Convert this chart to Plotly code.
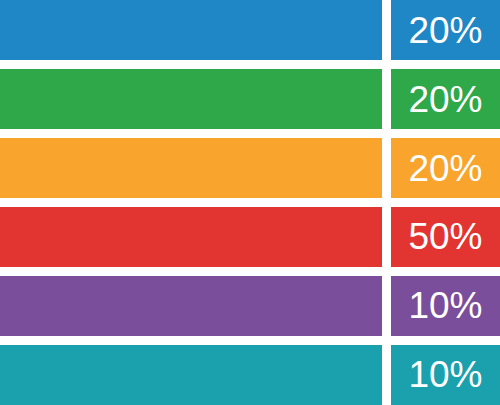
import plotly.graph_objects as go

rows = [0, 1, 2, 3, 4, 5]
labels = ["20%", "20%", "20%", "50%", "10%", "10%"]
colors = ["#1f87c6", "#2fa84a", "#f9a42c", "#e23431", "#7a4e9a", "#1ba1ad"]
bar_len = [382] * 6
gap_len = [9] * 6
box_len = [109] * 6

fig = go.Figure()
fig.add_bar(y=rows, x=bar_len, orientation="h", marker=dict(color=colors, line_width=0),
            hoverinfo="skip")
fig.add_bar(y=rows, x=gap_len, orientation="h", marker=dict(color="rgba(0,0,0,0)", line_width=0),
            hoverinfo="skip")
fig.add_bar(y=rows, x=box_len, orientation="h", marker=dict(color=colors, line_width=0),
            text=labels, textposition="inside", insidetextanchor="middle",
            textfont=dict(color="white", size=37, family="Liberation Sans"),
            hoverinfo="skip")
h = 0.87
fig.update_layout(
    barmode="stack", bargap=1 - h, showlegend=False,
    width=500, height=405, margin=dict(l=0, r=0, t=0, b=0),
    paper_bgcolor="white", plot_bgcolor="white",
    xaxis=dict(range=[0, 500], visible=False, fixedrange=True),
    yaxis=dict(range=[5 + h / 2, -h / 2], visible=False, fixedrange=True),
    uniformtext=dict(minsize=37, mode="show"),
)
fig.write_html("out.html", config={"displayModeBar": False},
               post_script="document.body.style.margin='0';document.body.style.padding='0';")
